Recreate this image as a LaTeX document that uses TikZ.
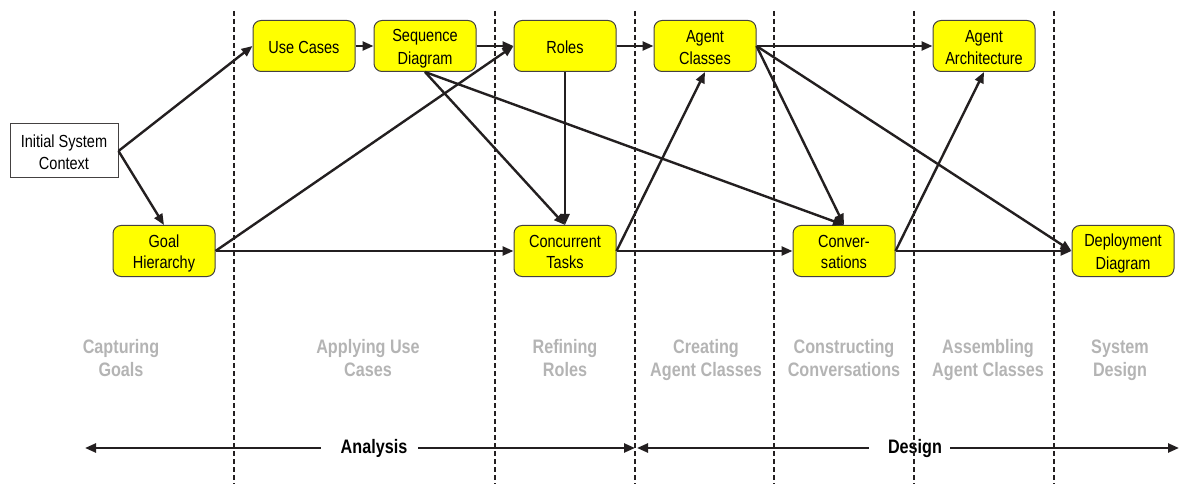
\documentclass[tikz,border=0pt]{standalone}
\usepackage{fontspec}
\setmainfont{Liberation Sans}[FakeStretch=0.83]
\usetikzlibrary{arrows.meta}
\definecolor{boxyellow}{HTML}{FFFF00}
\definecolor{phasegray}{HTML}{B4B4B4}
\definecolor{inkblack}{HTML}{231F20}
\newcommand{\tl}[1]{\strut #1}
\newcommand{\bl}[1]{\rule[-3.3pt]{0pt}{21pt}#1}
\begin{document}
\begin{tikzpicture}[x=1pt,y=-1pt,
  stagebox/.style={draw=inkblack!85,line width=1pt,fill=boxyellow,rounded corners=8pt,
    minimum width=102pt,minimum height=51pt,inner sep=0pt,align=center,
    font=\fontsize{17.5}{21}\selectfont},
  ctxbox/.style={draw=inkblack!85,line width=1pt,fill=white,
    minimum width=108pt,minimum height=54pt,inner sep=0pt,align=center,
    font=\fontsize{17.5}{21}\selectfont},
  flow/.style={draw=inkblack,line width=2.4pt,-{Triangle[length=11pt,width=9pt]}},
  phase/.style={text=phasegray,align=center,inner sep=0pt,font=\fontsize{19.5}{23}\selectfont\bfseries},
  era/.style={inner sep=0pt,font=\fontsize{19.5}{23}\selectfont\bfseries},
  divider/.style={draw=inkblack,line width=2pt,dash pattern=on 5pt off 3pt}]
\useasboundingbox (0,0) rectangle (1179,484);

% nodes
\node[ctxbox] (ini) at (64,151) {\bl{Initial System}\\\bl{Context}};
\node[stagebox] (uc) at (304,46) {\bl{Use Cases}};
\node[stagebox] (seq) at (425,46) {\bl{Sequence}\\\bl{Diagram}};
\node[stagebox] (rol) at (565,46) {\bl{Roles}};
\node[stagebox] (acl) at (705,46) {\bl{Agent}\\\bl{Classes}};
\node[stagebox] (aar) at (984,46) {\bl{Agent}\\\bl{Architecture}};
\node[stagebox] (goal) at (164,251) {\bl{Goal}\\\bl{Hierarchy}};
\node[stagebox] (ct) at (565,251) {\bl{Concurrent}\\\bl{Tasks}};
\node[stagebox] (conv) at (844,251) {\bl{Conver-}\\\bl{sations}};
\node[stagebox] (dep) at (1123,251) {\bl{Deployment}\\\bl{Diagram}};

% phase labels
\node[phase] (p1) at (121,360) {\tl{Capturing}\\\tl{Goals}};
\node[phase] (p2) at (368,360) {\tl{Applying Use}\\\tl{Cases}};
\node[phase] (p3) at (565,360) {\tl{Refining}\\\tl{Roles}};
\node[phase] (p4) at (706,360) {\tl{Creating}\\\tl{Agent Classes}};
\node[phase] (p5) at (844,360) {\tl{Constructing}\\\tl{Conversations}};
\node[phase] (p6) at (988,360) {\tl{Assembling}\\\tl{Agent Classes}};
\node[phase] (p7) at (1120,360) {\tl{System}\\\tl{Design}};

% connectors
\draw[flow] (ini.east) -- (uc.west);
\draw[flow] (ini.east) -- (goal.north);
\draw[flow] (uc.east) -- (seq.west);
\draw[flow] (seq.east) -- (rol.west);
\draw[flow] (goal.east) -- (rol.west);
\draw[flow] (goal.east) -- (ct.west);
\draw[flow] (seq.south) -- (ct.north);
\draw[flow] (seq.south) -- (conv.north);
\draw[flow] (rol.south) -- (ct.north);
\draw[flow] (rol.east) -- (acl.west);
\draw[flow] (ct.east) -- (acl.south);
\draw[flow] (ct.east) -- (conv.west);
\draw[flow] (acl.east) -- (aar.west);
\draw[flow] (acl.east) -- (conv.north);
\draw[flow] (acl.east) -- (dep.west);
\draw[flow] (conv.east) -- (aar.south);
\draw[flow] (conv.east) -- (dep.west);

% analysis / design
\node[era] (ana) at (374,448) {Analysis};
\node[era] (des) at (915,448) {Design};
\coordinate (anaL) at (85,448);
\coordinate (anaR) at (635,448);
\coordinate (desL) at (637,448);
\coordinate (desR) at (1179,448);
\draw[flow] ([xshift=-20pt]ana.west) -- (anaL);
\draw[flow] ([xshift=11pt]ana.east) -- (anaR);
\draw[flow] ([xshift=-19pt]des.west) -- (desL);
\draw[flow] ([xshift=8pt]des.east) -- (desR);

% dividers
\foreach \xx/\nm in {234/d1,495/d2,635/d3,774/d4,914/d5,1054/d6}{
  \coordinate (\nm t) at (\xx,11);
  \coordinate (\nm b) at (\xx,484);
  \draw[divider] (\nm t) -- (\nm b);
}
\end{tikzpicture}
\end{document}
